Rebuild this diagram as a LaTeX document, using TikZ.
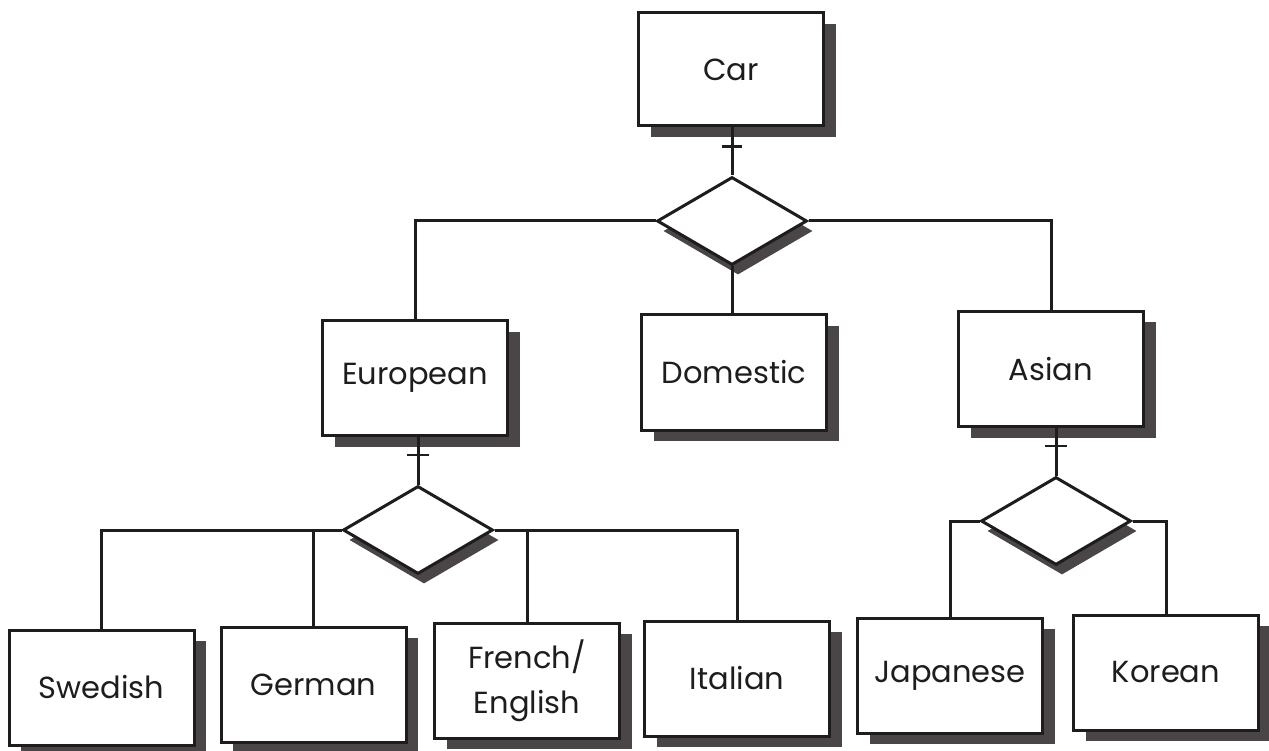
\documentclass[tikz,border=0pt]{standalone}
\usepackage{fontspec}
\setmainfont{Poppins}
\usetikzlibrary{shapes.geometric,shadows,calc}
\definecolor{ink}{HTML}{1E1C1C}
\definecolor{shade}{HTML}{4A4546}

\begin{document}
\begin{tikzpicture}[x=1pt,y=-1pt,
  entity/.style={draw=ink, line width=3pt, fill=white,
    minimum width=185pt, minimum height=115pt, inner sep=0pt,
    align=center, text=ink, font=\fontsize{30.5}{45}\selectfont,
    drop shadow={shadow xshift=12pt, shadow yshift=-11pt, fill=shade, opacity=1}},
  relation/.style={shape=diamond, draw=ink, line width=3pt, fill=white,
    minimum width=150pt, minimum height=88pt, inner sep=0pt,
    drop shadow={shadow xshift=6pt, shadow yshift=-10pt, fill=shade, opacity=1}},
  conn/.style={draw=ink, line width=3pt},
  tickbar/.style={draw=ink, line width=2.2pt}]

  \fill[white] (0,0) rectangle (1269,751);
  \useasboundingbox (0,0) rectangle (1269,751);

  % root and its subtype relation
  \node[entity, minimum height=113pt] (car) at (731,69.5) {Car};
  \node[relation] (top) at (732,221) {};

  % second level
  \node[entity] (eur) at (415,378) {European};
  \node[entity] (dom) at (734,372.5) {Domestic};
  \node[entity] (asi) at (1051,369) {Asian};

  % relations below European and Asian
  \node[relation] (erel) at (418,530) {};
  \node[relation] (arel) at (1056,521) {};

  % leaves
  \node[entity] (swe) at (101.5,687.5) {Swedish};
  \node[entity] (ger) at (313.5,684.5) {German};
  \node[entity] (fre) at (527,680.5) {French/\\English};
  \node[entity] (ita) at (737,678.5) {Italian};
  \node[entity] (jap) at (950,675.5) {Japanese};
  \node[entity] (kor) at (1166,672.5) {Korean};

  % Car -> relation, with bar
  \draw[conn] (top.north |- car.south) -- (top.north);
  \coordinate (cartick) at ($(top.north |- car.south)+(0,19)$);
  \draw[tickbar] ([xshift=-10pt]cartick) -- ([xshift=10pt]cartick);

  % relation -> second level
  \draw[conn] (top.west) -| (eur.north);
  \draw[conn] (top.east) -| (asi.north);
  \draw[conn] (top.south) -- (top.south |- dom.north);

  % European -> relation, with bar
  \draw[conn] (erel.north |- eur.south) -- (erel.north);
  \coordinate (eurtick) at ($(erel.north |- eur.south)+(0,18)$);
  \draw[tickbar] ([xshift=-11pt]eurtick) -- ([xshift=11pt]eurtick);

  % European subtypes
  \draw[conn] (erel.west) -| (swe.north);
  \draw[conn] (ger.north |- erel.west) -- (ger.north);
  \draw[conn] (erel.east) -| (ita.north);
  \draw[conn] (fre.north |- erel.east) -- (fre.north);

  % Asian -> relation, with bar
  \draw[conn] (arel.north |- asi.south) -- (arel.north);
  \coordinate (asitick) at ($(arel.north |- asi.south)+(0,18)$);
  \draw[tickbar] ([xshift=-11pt]asitick) -- ([xshift=11pt]asitick);

  % Asian subtypes
  \draw[conn] (arel.west) -| (jap.north);
  \draw[conn] (arel.east) -| (kor.north);
\end{tikzpicture}
\end{document}
